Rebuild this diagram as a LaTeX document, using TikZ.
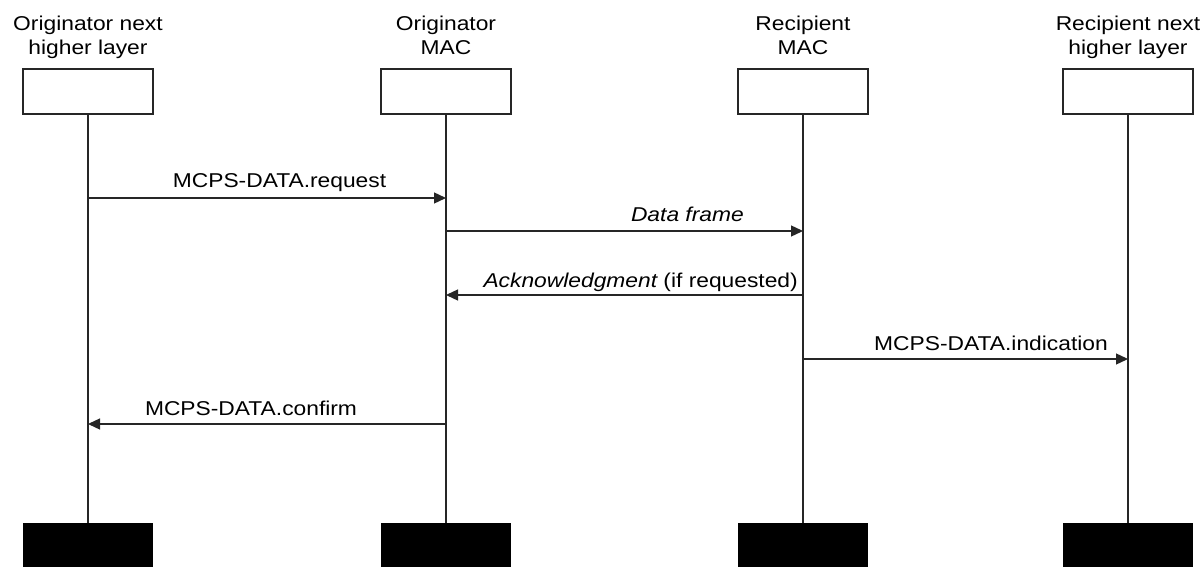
\documentclass[tikz,border=0pt]{standalone}
\usepackage{fontspec}
\setmainfont{Liberation Sans}[FakeStretch=1.14]
\usetikzlibrary{arrows.meta}
\begin{document}
\begin{tikzpicture}[x=1pt,y=-1pt,
  every node/.style={font=\fontsize{20}{24}\selectfont, inner sep=0pt},
  head/.style={draw=black!85, line width=1.3pt, fill=white, minimum width=130pt, minimum height=45pt},
  foot/.style={fill=black, minimum width=130pt, minimum height=46pt, anchor=north},
  life/.style={draw=black!85, line width=1.3pt},
  msg/.style={draw=black!85, line width=1.3pt, -{Triangle[length=12pt,width=11pt]}},
  title/.style={align=center, anchor=north},
  lbl/.style={anchor=base}]
\useasboundingbox (0,0) rectangle (1200,567);
% titles
\node[title] (t1) at (88,16) {Originator next\\higher layer};
\node[title] (t2) at (446,16) {Originator\\MAC};
\node[title] (t3) at (803,16) {Recipient\\MAC};
\node[title] (t4) at (1128,16) {Recipient next\\higher layer};
% heads
\node[head] (h1) at (88,91.5) {};
\node[head] (h2) at (446,91.5) {};
\node[head] (h3) at (803,91.5) {};
\node[head] (h4) at (1128,91.5) {};
% feet
\node[foot] (f1) at (88,523) {};
\node[foot] (f2) at (446,523) {};
\node[foot] (f3) at (803,523) {};
\node[foot] (f4) at (1128,523) {};
% lifelines
\draw[life] (h1.south) -- (f1.north);
\draw[life] (h2.south) -- (f2.north);
\draw[life] (h3.south) -- (f3.north);
\draw[life] (h4.south) -- (f4.north);
% message points
\coordinate (a1) at (88,198);  \coordinate (a2) at (446,198);
\coordinate (b2) at (446,231); \coordinate (b3) at (803,231);
\coordinate (c3) at (803,295); \coordinate (c2) at (446,295);
\coordinate (d3) at (803,359); \coordinate (d4) at (1128,359);
\coordinate (e2) at (446,424); \coordinate (e1) at (88,424);
\draw[msg] (a1) -- (a2);
\draw[msg] (b2) -- (b3);
\draw[msg] (c3) -- (c2);
\draw[msg] (d3) -- (d4);
\draw[msg] (e2) -- (e1);
% labels
\node[lbl] (l1) at (279.5,188) {MCPS-DATA.request};
\node[lbl, anchor=base east] (l2) at (744,222) {\itshape Data frame};
\node[lbl, anchor=base east] (l3) at (798,287) {\itshape Acknowledgment\upshape\ (if requested)};
\node[lbl] (l4) at (991,350) {MCPS-DATA.indication};
\node[lbl] (l5) at (251,415) {MCPS-DATA.confirm};
\end{tikzpicture}
\end{document}
